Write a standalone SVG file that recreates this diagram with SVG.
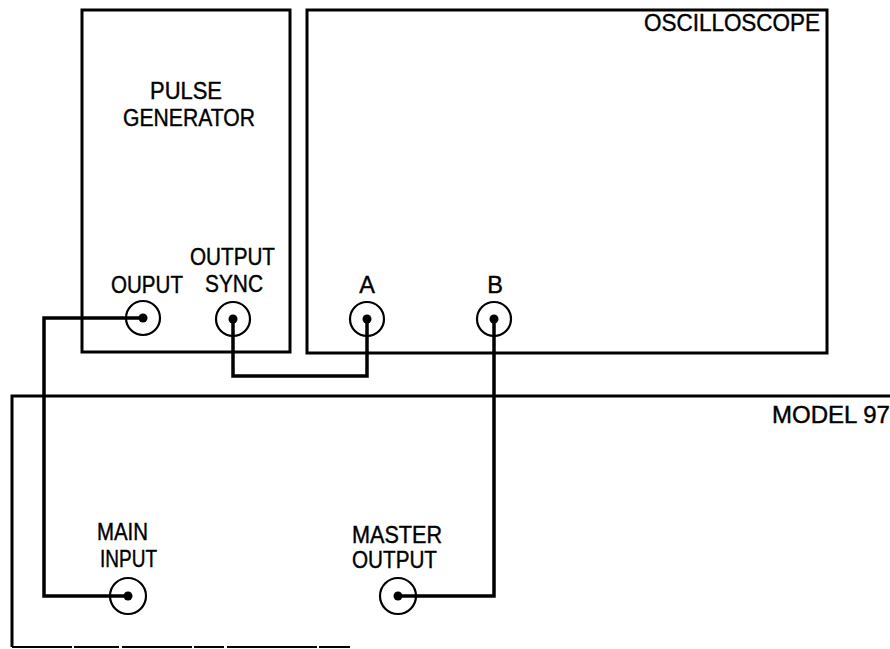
<svg xmlns="http://www.w3.org/2000/svg" width="890" height="649" viewBox="0 0 890 649">
<style>
.box{fill:none;stroke:#000;stroke-width:3}
.wire{fill:none;stroke:#000;stroke-width:3.5;stroke-linejoin:miter}
.jack{fill:none;stroke:#000;stroke-width:2.2}
.pin{fill:#000}
text{font-family:"Liberation Sans",Arial,sans-serif;font-size:23.5px;fill:#000;stroke:#000;stroke-width:0.4}
</style>
<rect width="890" height="649" fill="#fff"/>
<g id="pulse-generator">
<rect class="box" x="82" y="10" width="208" height="342"/>
<text x="150" y="99" textLength="72" lengthAdjust="spacingAndGlyphs">PULSE</text>
<text x="123" y="126" textLength="132" lengthAdjust="spacingAndGlyphs">GENERATOR</text>
<text x="111" y="293" textLength="72" lengthAdjust="spacingAndGlyphs">OUPUT</text>
<text x="190" y="265" textLength="85" lengthAdjust="spacingAndGlyphs">OUTPUT</text>
<text x="205" y="292" textLength="58" lengthAdjust="spacingAndGlyphs">SYNC</text>
<circle class="jack" cx="143" cy="318" r="17"/>
<circle class="jack" cx="233" cy="319" r="17"/>
</g>
<g id="oscilloscope">
<rect class="box" x="307" y="10" width="520" height="343"/>
<text x="644" y="31" textLength="176" lengthAdjust="spacingAndGlyphs">OSCILLOSCOPE</text>
<text x="367" y="293" text-anchor="middle">A</text>
<text x="495" y="293" text-anchor="middle">B</text>
<circle class="jack" cx="367" cy="319" r="17"/>
<circle class="jack" cx="494" cy="319" r="17"/>
</g>
<g id="model-97">
<path class="box" d="M890 396 H12 V647"/>
<path d="M12 647 H350" fill="none" stroke="#000" stroke-width="2" stroke-dasharray="60 2 45 3 70 2 30 3 90 2 50"/>
<text x="772" y="423" textLength="118" lengthAdjust="spacingAndGlyphs">MODEL 97</text>
<text x="97" y="540" textLength="51" lengthAdjust="spacingAndGlyphs">MAIN</text>
<text x="100" y="567" textLength="57" lengthAdjust="spacingAndGlyphs">INPUT</text>
<text x="352" y="543" textLength="90" lengthAdjust="spacingAndGlyphs">MASTER</text>
<text x="352" y="568" textLength="85" lengthAdjust="spacingAndGlyphs">OUTPUT</text>
<circle class="jack" cx="128" cy="596" r="18"/>
<circle class="jack" cx="398" cy="596" r="18"/>
</g>
<g id="connectors">
<path class="wire" d="M143 318 H44 V596 H128"/>
<path class="wire" d="M233 319 V376 H367 V319"/>
<path class="wire" d="M494 319 V596 H398"/>
<circle class="pin" cx="143" cy="318" r="4.5"/>
<circle class="pin" cx="233" cy="319" r="4.5"/>
<circle class="pin" cx="367" cy="319" r="4.5"/>
<circle class="pin" cx="494" cy="319" r="4.5"/>
<circle class="pin" cx="128" cy="596" r="4.5"/>
<circle class="pin" cx="398" cy="596" r="4.5"/>
</g>
</svg>
